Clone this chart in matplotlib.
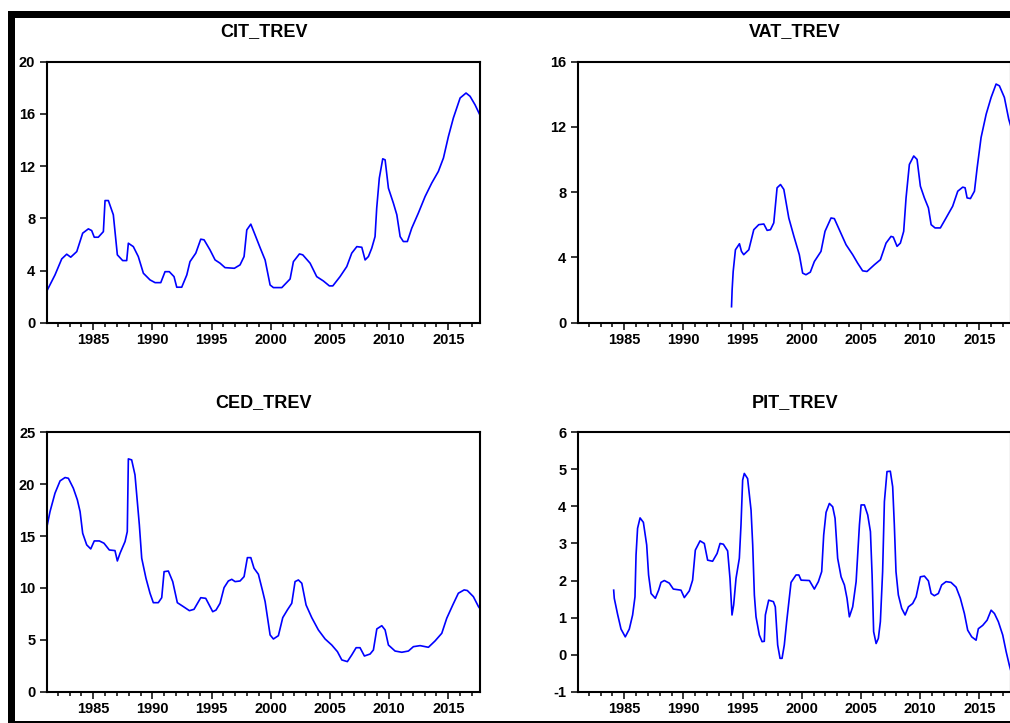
import matplotlib
matplotlib.use('Agg')
import matplotlib.pyplot as plt
from matplotlib.patches import Rectangle
from matplotlib.ticker import MultipleLocator

# quarterly series (year, share of total revenue)
cit_year = [1981.11, 1981.76, 1982.33, 1982.75, 1983.09, 1983.6, 1984.1, 1984.58, 1984.86, 1985.08,
            1985.42, 1985.85, 1985.99, 1986.27, 1986.69, 1987.03, 1987.48, 1987.82, 1987.96, 1988.38,
            1988.8, 1989.23, 1989.79, 1990.22, 1990.7, 1991.06, 1991.42, 1991.82, 1992.05, 1992.47,
            1992.9, 1993.17, 1993.66, 1994.08, 1994.36, 1994.86, 1995.29, 1995.71, 1996.13, 1996.92,
            1997.4, 1997.74, 1997.97, 1998.31, 1998.67, 1999.09, 1999.52, 1999.94, 2000.22, 2000.93,
            2001.63, 2001.91, 2002.42, 2002.7, 2003.32, 2003.88, 2004.44, 2004.95, 2005.24, 2005.85,
            2006.42, 2006.84, 2007.27, 2007.69, 2007.97, 2008.25, 2008.53, 2008.81, 2008.95, 2009.17,
            2009.46, 2009.66, 2009.94, 2010.36, 2010.65, 2010.93, 2011.2, 2011.54, 2011.91, 2012.47,
            2013.04, 2013.6, 2014.16, 2014.59, 2015.01, 2015.43, 2016.0, 2016.5, 2016.84, 2017.26,
            2017.68]
cit_val = [2.5, 3.66, 4.89, 5.25, 5.02, 5.45, 6.86, 7.19, 7.06, 6.55,
           6.55, 6.98, 9.36, 9.36, 8.27, 5.2, 4.76, 4.76, 6.09, 5.83,
           5.07, 3.79, 3.28, 3.07, 3.07, 3.91, 3.91, 3.53, 2.72, 2.72,
           3.66, 4.68, 5.33, 6.4, 6.35, 5.58, 4.81, 4.56, 4.22, 4.17,
           4.43, 5.07, 7.11, 7.55, 6.73, 5.76, 4.8, 2.89, 2.69, 2.69,
           3.35, 4.68, 5.27, 5.2, 4.56, 3.53, 3.2, 2.82, 2.82, 3.53,
           4.3, 5.33, 5.83, 5.78, 4.81, 5.07, 5.71, 6.6, 8.78, 11.08,
           12.56, 12.48, 10.31, 9.16, 8.27, 6.6, 6.22, 6.22, 7.24, 8.4,
           9.67, 10.7, 11.59, 12.62, 14.27, 15.69, 17.22, 17.6, 17.35, 16.7,
           15.9]

vat_year = [1994.06, 1994.11, 1994.2, 1994.39, 1994.73, 1994.9, 1995.09, 1995.52, 1995.94, 1996.36,
            1996.79, 1997.07, 1997.35, 1997.63, 1997.91, 1998.2, 1998.48, 1998.9, 1999.33, 1999.79,
            2000.07, 2000.35, 2000.72, 2001.06, 2001.62, 2001.96, 2002.47, 2002.75, 2003.17, 2003.74,
            2004.3, 2004.72, 2005.14, 2005.51, 2006.13, 2006.64, 2007.12, 2007.54, 2007.73, 2008.05,
            2008.33, 2008.61, 2008.81, 2009.09, 2009.46, 2009.74, 2010.02, 2010.36, 2010.7, 2010.93,
            2011.26, 2011.71, 2012.19, 2012.75, 2013.18, 2013.6, 2013.8, 2013.97, 2014.25, 2014.59,
            2014.82, 2015.15, 2015.58, 2016.0, 2016.42, 2016.7, 2017.12, 2017.49, 2017.68]
vat_val = [0.98, 2.01, 3.14, 4.47, 4.84, 4.37, 4.17, 4.47, 5.7, 6.01,
           6.05, 5.66, 5.7, 6.12, 8.27, 8.47, 8.17, 6.42, 5.3, 4.17,
           3.04, 2.94, 3.1, 3.75, 4.37, 5.6, 6.42, 6.38, 5.7, 4.78,
           4.17, 3.65, 3.18, 3.14, 3.55, 3.86, 4.88, 5.29, 5.25, 4.68,
           4.88, 5.6, 7.65, 9.7, 10.22, 10.01, 8.37, 7.65, 7.04, 6.01,
           5.81, 5.81, 6.42, 7.14, 8.06, 8.31, 8.27, 7.65, 7.61, 8.06,
           9.5, 11.35, 12.78, 13.81, 14.63, 14.52, 13.81, 12.47, 12.0]

ced_year = [1981.11, 1981.34, 1981.76, 1982.19, 1982.61, 1982.89, 1983.31, 1983.65, 1983.88, 1984.1,
            1984.44, 1984.78, 1985.08, 1985.51, 1985.9, 1986.35, 1986.83, 1987.03, 1987.26, 1987.68,
            1987.87, 1987.96, 1988.24, 1988.52, 1988.89, 1989.09, 1989.45, 1989.79, 1990.07, 1990.49,
            1990.78, 1990.98, 1991.34, 1991.71, 1992.1, 1992.61, 1993.12, 1993.51, 1994.08, 1994.5,
            1994.72, 1995.09, 1995.37, 1995.71, 1996.05, 1996.41, 1996.7, 1996.98, 1997.4, 1997.74,
            1998.02, 1998.31, 1998.58, 1998.95, 1999.32, 1999.52, 1999.94, 2000.22, 2000.64, 2001.01,
            2001.4, 2001.77, 2002.05, 2002.33, 2002.62, 2002.98, 2003.46, 2004.02, 2004.59, 2005.15,
            2005.63, 2006.0, 2006.47, 2006.84, 2007.21, 2007.54, 2007.91, 2008.39, 2008.67, 2008.96,
            2009.38, 2009.66, 2009.94, 2010.5, 2011.07, 2011.63, 2012.05, 2012.62, 2013.32, 2013.88,
            2014.45, 2014.87, 2015.38, 2015.85, 2016.34, 2016.61, 2017.12, 2017.55, 2017.68]
ced_val = [16.07, 17.36, 19.13, 20.32, 20.64, 20.57, 19.61, 18.49, 17.36, 15.27,
           14.15, 13.76, 14.53, 14.53, 14.31, 13.66, 13.6, 12.6, 13.35, 14.47,
           15.43, 22.44, 22.34, 20.9, 16.07, 12.86, 10.93, 9.49, 8.58, 8.58,
           9.06, 11.57, 11.63, 10.61, 8.58, 8.2, 7.81, 7.94, 9.06, 9.0,
           8.52, 7.71, 7.87, 8.52, 10.03, 10.67, 10.83, 10.61, 10.67, 11.09,
           12.92, 12.92, 11.9, 11.32, 9.64, 8.68, 5.47, 5.08, 5.4, 7.14,
           7.88, 8.52, 10.61, 10.77, 10.45, 8.36, 7.14, 5.95, 5.08, 4.5,
           3.86, 3.06, 2.9, 3.54, 4.24, 4.24, 3.44, 3.63, 4.02, 6.05,
           6.36, 5.95, 4.5, 3.92, 3.8, 3.92, 4.34, 4.44, 4.28, 4.89,
           5.63, 7.08, 8.36, 9.49, 9.81, 9.75, 9.16, 8.2, 8.0]

pit_year = [1984.1, 1984.15, 1984.43, 1984.72, 1985.08, 1985.42, 1985.7, 1985.9, 1985.99, 1986.12,
            1986.33, 1986.61, 1986.89, 1987.05, 1987.26, 1987.62, 1987.9, 1988.1, 1988.38, 1988.8,
            1989.14, 1989.79, 1990.07, 1990.49, 1990.77, 1991.0, 1991.4, 1991.76, 1992.04, 1992.46,
            1992.84, 1993.09, 1993.37, 1993.73, 1993.93, 1994.1, 1994.24, 1994.44, 1994.72, 1994.86,
            1995.0, 1995.14, 1995.42, 1995.71, 1995.85, 1995.99, 1996.13, 1996.41, 1996.64, 1996.83,
            1996.92, 1997.2, 1997.6, 1997.76, 1997.96, 1998.16, 1998.33, 1998.52, 1998.72, 1998.95,
            1999.09, 1999.51, 1999.75, 1999.94, 2000.64, 2001.06, 2001.4, 2001.68, 2001.85, 2002.05,
            2002.33, 2002.61, 2002.81, 2003.03, 2003.32, 2003.6, 2003.82, 2004.02, 2004.3, 2004.59,
            2004.87, 2005.01, 2005.29, 2005.57, 2005.8, 2005.94, 2006.07, 2006.28, 2006.47, 2006.64,
            2006.83, 2006.98, 2007.2, 2007.48, 2007.68, 2007.82, 2007.96, 2008.16, 2008.44, 2008.73,
            2009.01, 2009.37, 2009.66, 2010.02, 2010.36, 2010.7, 2010.93, 2011.2, 2011.54, 2011.82,
            2012.19, 2012.61, 2013.04, 2013.4, 2013.74, 2014.02, 2014.36, 2014.73, 2014.92, 2015.29,
            2015.66, 2016.0, 2016.28, 2016.61, 2016.98, 2017.27, 2017.55, 2017.68]
pit_val = [1.74, 1.52, 1.09, 0.69, 0.48, 0.69, 1.07, 1.56, 2.69, 3.41,
           3.69, 3.57, 2.96, 2.15, 1.65, 1.52, 1.74, 1.95, 2.0, 1.93,
           1.77, 1.74, 1.54, 1.72, 2.01, 2.82, 3.07, 3.0, 2.55, 2.52,
           2.73, 3.0, 2.98, 2.8, 2.06, 1.07, 1.34, 2.06, 2.6, 3.5,
           4.71, 4.89, 4.75, 3.9, 2.96, 1.61, 1.02, 0.53, 0.35, 0.36,
           1.07, 1.47, 1.43, 1.29, 0.26, -0.1, -0.1, 0.26, 0.89, 1.56,
           1.95, 2.15, 2.15, 2.01, 2.0, 1.77, 1.97, 2.24, 3.23, 3.84,
           4.08, 3.99, 3.68, 2.6, 2.1, 1.88, 1.52, 1.02, 1.29, 1.97,
           3.5, 4.04, 4.04, 3.77, 3.32, 2.15, 0.62, 0.3, 0.44, 0.89,
           2.24, 4.13, 4.94, 4.95, 4.53, 3.5, 2.24, 1.61, 1.25, 1.07,
           1.29, 1.38, 1.56, 2.1, 2.12, 1.99, 1.65, 1.59, 1.65, 1.88,
           1.97, 1.95, 1.82, 1.52, 1.11, 0.66, 0.48, 0.39, 0.7, 0.79,
           0.93, 1.2, 1.11, 0.89, 0.53, 0.08, -0.3, -0.45]

for a, b in [(cit_year, cit_val), (vat_year, vat_val), (ced_year, ced_val), (pit_year, pit_val)]:
    assert len(a) == len(b), (len(a), len(b))

year_ticks = [1985, 1990, 1995, 2000, 2005, 2010, 2015]

W, H = 1010, 723


def px_box(x0, y0, x1, y1):
    # pixel box (top-left origin) -> figure fraction [left, bottom, width, height]
    return [x0 / W, 1 - y1 / H, (x1 - x0) / W, (y1 - y0) / H]


plt.rcParams['font.family'] = ['Liberation Sans', 'DejaVu Sans']
plt.rcParams['font.weight'] = 'bold'
plt.rcParams['axes.unicode_minus'] = False

fig = plt.figure(figsize=(W / 100, H / 100), dpi=100)
fig.patch.set_facecolor('white')

panels = [
    ('CIT_TREV', cit_year, cit_val, (0, 20), 4, (47.3, 61.7, 480.0, 322.7)),
    ('VAT_TREV', vat_year, vat_val, (0, 16), 4, (578.3, 61.7, 1011.0, 322.7)),
    ('CED_TREV', ced_year, ced_val, (0, 25), 5, (47.3, 432.3, 480.0, 691.7)),
    ('PIT_TREV', pit_year, pit_val, (-1, 6), 1, (578.3, 432.3, 1011.0, 691.7)),
]

for title, x, y, ylim, ystep, box in panels:
    ax = fig.add_axes(px_box(*box))
    ax.plot(x, y, color='#0000ff', linewidth=1.2)

    ax.set_xlim(1981.11, 2017.68)
    ax.set_ylim(*ylim)
    ax.set_xticks(year_ticks)
    ax.xaxis.set_minor_locator(MultipleLocator(1))
    ax.yaxis.set_major_locator(MultipleLocator(ystep))

    ax.tick_params(axis='x', which='major', direction='out', length=5, width=1.1,
                   pad=2.4, labelsize=10.5)
    ax.tick_params(axis='x', which='minor', direction='out', length=3, width=1.1)
    ax.tick_params(axis='y', which='major', direction='out', length=5, width=1.1,
                   pad=3.6, labelsize=10.5)
    for s in ax.spines.values():
        s.set_linewidth(1.5)
        s.set_color('black')

    ax.set_title(title, fontsize=13, fontweight='bold', pad=18.5)

# black window frame around the graph
frame = [(8, 11, 1010, 18), (8, 11, 15, 723), (8, 721, 1010, 723)]
for x0, y0, x1, y1 in frame:
    fig.add_artist(Rectangle((x0 / W, 1 - y1 / H), (x1 - x0) / W, (y1 - y0) / H,
                             transform=fig.transFigure, color='black', linewidth=0))

fig.savefig('out.png', dpi=100)
